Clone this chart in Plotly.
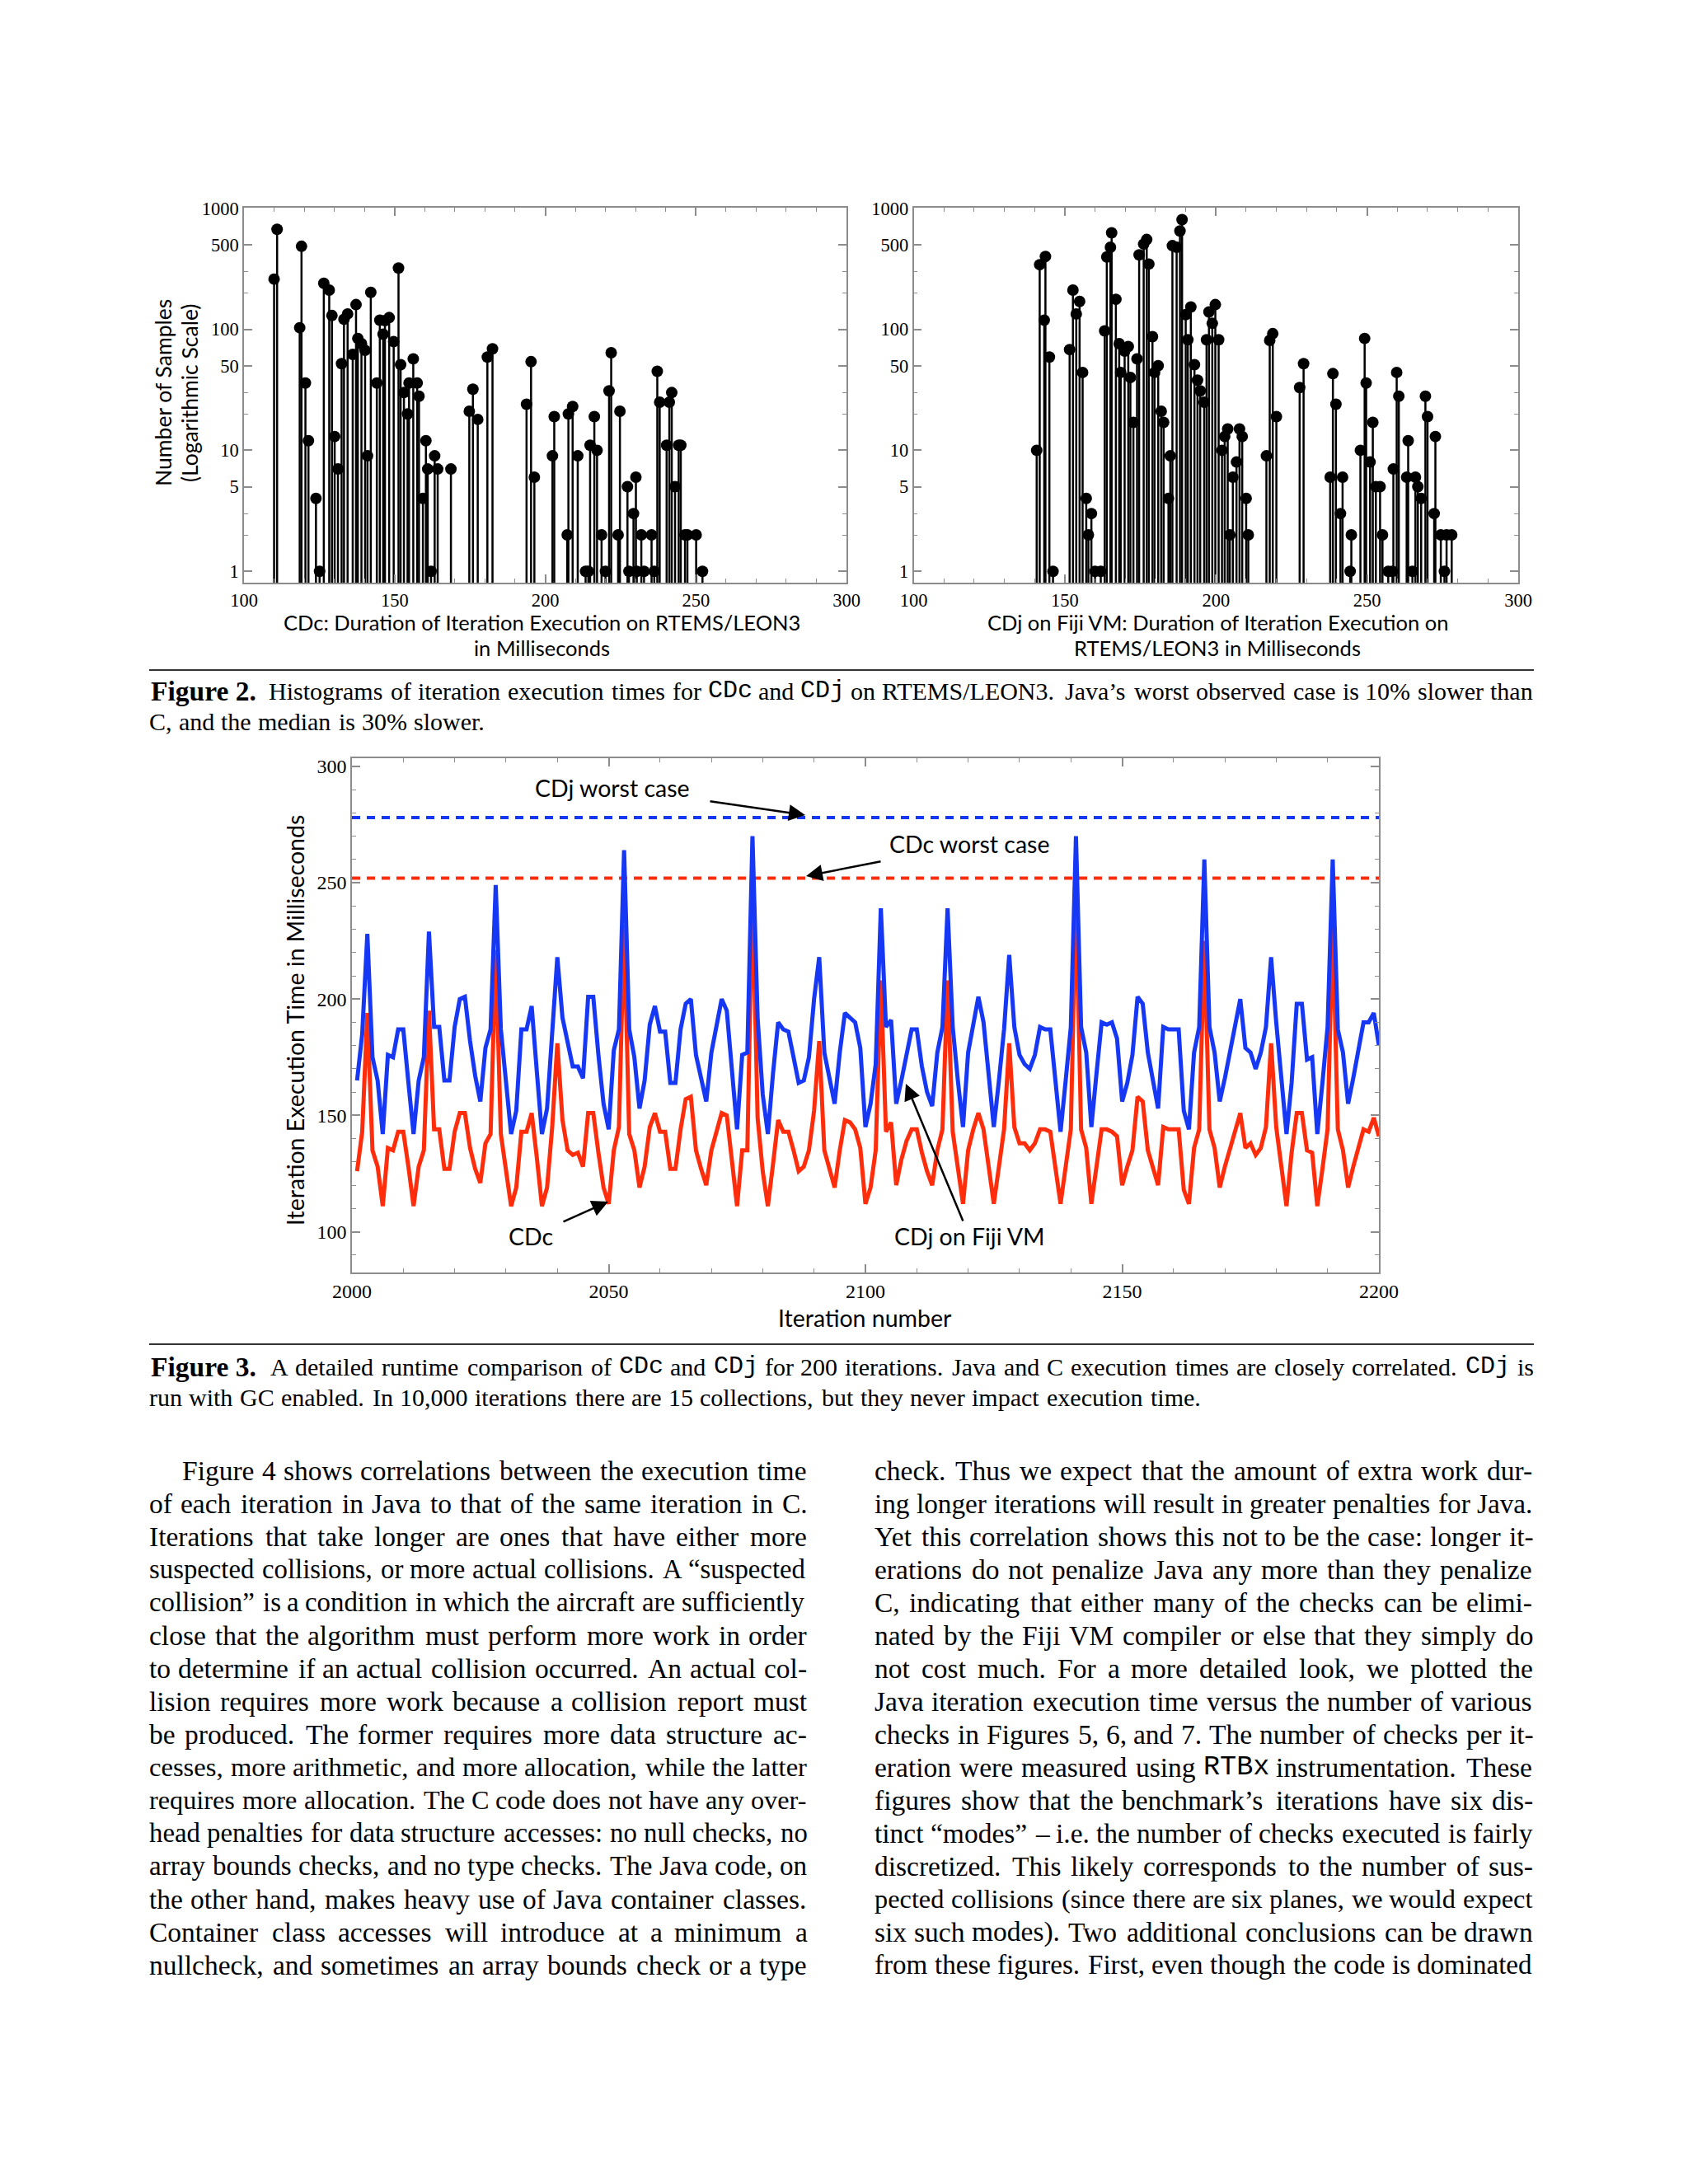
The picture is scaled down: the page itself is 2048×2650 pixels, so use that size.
import plotly.graph_objects as go

W, H = 2048, 2650

# ---------------- data ----------------
cdc_ms = [110, 111, 118.5, 119.1, 120.4, 121.4, 123.9, 125.1, 126.5, 128.3, 129.2, 130.1, 131.2, 132.4,
          133.2, 134.4, 136.1, 137.2, 137.8, 139.0, 140.2, 141.0, 142.1, 144.1, 145.1, 146.2, 146.8, 148.2,
          149.7, 151.3, 152.0, 153.1, 154.3, 154.8, 156.2, 157.5, 158.1, 159.4, 160.4, 161.0, 162.1, 163.3,
          164.3, 168.7, 174.8, 176.0, 177.6, 180.8, 182.5, 193.8, 195.3, 196.4, 202.4, 203.0, 207.3, 207.7,
          209.1, 210.8, 213.4, 214.3, 214.9, 216.3, 217.2, 218.7, 220.0, 221.2, 221.9, 224.2, 224.8, 227.3,
          227.8, 229.3, 230.1, 230.4, 231.9, 232.8, 235.3, 236.2, 237.2, 238.0, 240.3, 241.2, 242.0, 243.1,
          244.3, 245.0, 246.4, 247.2, 250.1, 252.2]
cdc_count = [260, 670, 103, 485, 36, 12, 4, 1, 240, 211, 130, 13, 7, 52,
             121, 134, 62, 160, 84, 76, 67, 9, 202, 36, 119, 91, 118, 125,
             79, 321, 51, 30, 20, 36, 57, 36, 28, 4, 12, 7, 1, 9,
             7, 7, 21, 32, 18, 59, 69, 24, 54, 6, 9, 19, 2, 20,
             23, 9, 1, 1, 11, 19, 10, 2, 1, 31, 64, 2, 21, 5,
             1, 3, 6, 1, 2, 1, 2, 1, 45, 25, 11, 25, 30, 5,
             11, 11, 2, 2, 2, 1]

cdj_ms = [140.7, 141.7, 143.2, 143.6, 144.9, 146.1, 151.6, 152.7, 153.8, 154.9, 155.9, 157.1, 157.8, 158.8,
          160.0, 161.9, 163.2, 163.9, 165.1, 165.5, 166.9, 168.0, 168.5, 169.8, 171.0, 171.7, 172.7, 173.9,
          174.6, 176.1, 177.1, 177.8, 179.0, 179.7, 180.9, 181.9, 182.7, 184.3, 184.9, 185.6, 187.0, 188.1,
          188.8, 190.0, 190.7, 191.7, 192.9, 193.9, 194.8, 196.1, 196.9, 197.7, 198.8, 199.8, 200.9, 202.0,
          202.9, 203.9, 204.6, 205.6, 206.8, 207.8, 208.7, 210.0, 210.7, 216.7, 217.8, 218.8, 220.0, 227.7,
          229.0, 237.8, 238.7, 239.7, 241.2, 241.9, 244.4, 244.8, 247.8, 249.2, 249.7, 251.0, 251.9, 252.9,
          254.3, 255.1, 257.0, 258.4, 258.7, 259.8, 260.5, 263.1, 263.6, 265.0, 266.0, 266.8, 267.9, 269.3,
          270.0, 272.2, 272.6, 274.4, 275.6, 276.3, 278.0]
cdj_count = [10, 342, 119, 400, 59, 1, 68, 211, 134, 170, 44, 4, 2, 3,
             1, 1, 97, 396, 477, 627, 177, 76, 44, 66, 72, 40, 17, 57,
             412, 506, 552, 346, 87, 44, 50, 21, 17, 4, 9, 491, 477, 650,
             806, 132, 82, 153, 51, 38, 31, 25, 82, 139, 112, 160, 82, 10,
             13, 15, 2, 6, 8, 15, 13, 4, 2, 9, 81, 92, 19, 33,
             52, 6, 43, 24, 3, 6, 1, 2, 10, 84, 36, 8, 17, 5,
             5, 2, 1, 1, 7, 44, 28, 6, 12, 1, 6, 5, 4, 28,
             19, 3, 13, 2, 1, 2, 2]

iterations = list(range(2001, 2201))
cdj_time = [165, 185, 228, 175, 165, 142, 176, 175, 187, 187, 164, 142, 165, 175, 229, 188, 188, 165, 165, 188,
            200, 201, 182, 167, 156, 179, 187, 249, 187, 165, 142, 152, 187, 187, 197, 169, 142, 153, 188, 218,
            192, 181, 171, 171, 166, 201, 201, 176, 155, 144, 178, 187, 264, 187, 175, 153, 165, 189, 197, 186,
            186, 164, 164, 187, 198, 200, 176, 166, 156, 177, 188, 200, 195, 169, 144, 176, 177, 270, 192, 159,
            142, 168, 190, 187, 186, 175, 164, 165, 175, 200, 218, 177, 165, 155, 177, 194, 192, 190, 179, 145,
            155, 172, 239, 188, 191, 155, 165, 176, 187, 187, 171, 160, 154, 177, 188, 239, 188, 165, 145, 177,
            189, 201, 190, 165, 145, 165, 187, 219, 188, 176, 172, 170, 176, 188, 187, 187, 167, 143, 165, 188,
            270, 188, 177, 145, 168, 190, 189, 190, 183, 156, 164, 176, 201, 198, 177, 165, 153, 188, 187, 187,
            187, 152, 144, 177, 188, 260, 188, 177, 156, 166, 177, 188, 200, 179, 177, 170, 177, 188, 218, 190,
            165, 142, 164, 198, 198, 174, 175, 142, 164, 188, 260, 187, 177, 155, 166, 177, 190, 190, 194, 180]
cdc_time = [126, 143, 194, 135, 128, 111, 136, 135, 143, 143, 128, 111, 128, 135, 195, 144, 144, 127, 127, 143,
            151, 151, 136, 127, 121, 138, 142, 221, 142, 127, 111, 119, 143, 143, 151, 132, 111, 119, 145, 181,
            148, 135, 133, 134, 128, 151, 151, 134, 119, 112, 135, 145, 232, 142, 135, 119, 128, 145, 151, 143,
            143, 127, 127, 144, 157, 158, 135, 127, 120, 135, 143, 151, 150, 129, 111, 135, 135, 248, 149, 126,
            111, 129, 148, 143, 143, 135, 126, 128, 135, 152, 182, 135, 127, 119, 135, 148, 147, 144, 136, 112,
            119, 135, 208, 143, 147, 120, 131, 139, 144, 144, 134, 126, 120, 135, 144, 208, 143, 128, 112, 135,
            144, 151, 144, 128, 112, 128, 144, 181, 145, 138, 138, 135, 138, 144, 144, 143, 127, 112, 128, 144,
            246, 144, 136, 112, 128, 144, 144, 143, 141, 120, 128, 135, 158, 156, 135, 127, 120, 145, 144, 144,
            144, 118, 112, 136, 144, 225, 144, 136, 119, 128, 136, 144, 151, 136, 138, 133, 136, 145, 181, 145,
            128, 111, 134, 151, 151, 135, 134, 111, 127, 144, 232, 144, 135, 119, 128, 136, 144, 143, 149, 141]
cdj_worst = 278
cdc_worst = 252

hist_xticks = [100, 150, 200, 250, 300]
hist_yticks = [1, 5, 10, 50, 100, 500, 1000]
hist_yminor = [2, 3, 20, 30, 200, 300]
line_xticks = [2000, 2050, 2100, 2150, 2200]
line_yticks = [100, 150, 200, 250, 300]

SERIF = "Liberation Serif"
SANS = "Lato"
MONO = "Liberation Mono"
BLUE = "#1638f5"
RED = "#ff2d0c"
FRAME = "#8c8c8c"


def px(x):
    return x / W


def py(y):
    return 1 - y / H


def stems(xs, ys):
    X, Y = [], []
    for x, y in zip(xs, ys):
        X += [x, x, None]
        Y += [0.1, y, None]
    return X, Y


fig = go.Figure()

for xs, ys, xa, ya in [(cdc_ms, cdc_count, "x", "y"), (cdj_ms, cdj_count, "x2", "y2")]:
    SX, SY = stems(xs, ys)
    fig.add_trace(go.Scatter(x=SX, y=SY, mode="lines", line=dict(color="black", width=2.5),
                             xaxis=xa, yaxis=ya, hoverinfo="skip"))
    fig.add_trace(go.Scatter(x=xs, y=ys, mode="markers", marker=dict(color="black", size=14),
                             xaxis=xa, yaxis=ya))

fig.add_trace(go.Scatter(x=[2000, 2200], y=[cdj_worst, cdj_worst], mode="lines",
                         line=dict(color=BLUE, width=4, dash="10px,8px"), xaxis="x3", yaxis="y3"))
fig.add_trace(go.Scatter(x=[2000, 2200], y=[cdc_worst, cdc_worst], mode="lines",
                         line=dict(color=RED, width=4, dash="10px,8px"), xaxis="x3", yaxis="y3"))
fig.add_trace(go.Scatter(x=iterations, y=cdc_time, mode="lines", line=dict(color=RED, width=5),
                         xaxis="x3", yaxis="y3"))
fig.add_trace(go.Scatter(x=iterations, y=cdj_time, mode="lines", line=dict(color=BLUE, width=5),
                         xaxis="x3", yaxis="y3"))


def axis(**kw):
    d = dict(showline=True, linecolor=FRAME, linewidth=1.5, mirror="ticks", ticks="inside",
             tickcolor=FRAME, ticklen=10, tickwidth=1.5, showgrid=False, zeroline=False,
             automargin=False,
             tickfont=dict(family=SERIF, size=22.5, color="black"))
    d.update(kw)
    return d


hist_x_minor = dict(tickvals=[v for v in range(110, 300, 10) if v % 50], ticks="inside", ticklen=5,
                    tickcolor=FRAME, tickwidth=1.2)
hist_y_common = dict(type="log", range=[-0.094, 3.005], tickvals=hist_yticks,
                     ticktext=[str(v) for v in hist_yticks],
                     minor=dict(tickvals=hist_yminor, ticks="inside", ticklen=5, tickcolor=FRAME, tickwidth=1.2))

yd_hist = [py(707), py(252)]
fig.update_layout(
    template="none",
    width=W, height=H, autosize=False, margin=dict(l=0, r=0, t=0, b=0, pad=0, autoexpand=False),
    paper_bgcolor="white", plot_bgcolor="white", showlegend=False,
    xaxis=axis(domain=[px(296), px(1027)], range=[100, 300], tickvals=hist_xticks, anchor="y",
               minor=hist_x_minor),
    yaxis=axis(domain=yd_hist, anchor="x", **hist_y_common),
    xaxis2=axis(domain=[px(1108.5), px(1842)], range=[100, 300], tickvals=hist_xticks, anchor="y2",
                minor=hist_x_minor),
    yaxis2=axis(domain=yd_hist, anchor="x2", **hist_y_common),
    xaxis3=axis(domain=[px(427), px(1673)], range=[2000, 2200], tickvals=line_xticks, anchor="y3",
                tickfont=dict(family=SERIF, size=24, color="black"),
                minor=dict(tickvals=[v for v in range(2010, 2200, 10) if v % 50], ticks="inside",
                           ticklen=5, tickcolor=FRAME, tickwidth=1.2)),
    yaxis3=axis(domain=[py(1544), py(920)], range=[82.5, 303.5], tickvals=line_yticks, anchor="x3",
                tickfont=dict(family=SERIF, size=24, color="black"),
                minor=dict(tickvals=[v for v in range(90, 301, 10) if v % 50], ticks="inside",
                           ticklen=5, tickcolor=FRAME, tickwidth=1.2)),
)

ann = []


def label(text, x, y, size, family=SANS, angle=0, xanchor="center"):
    ann.append(dict(text=text, x=px(x), y=py(y), xref="paper", yref="paper", showarrow=False,
                    xanchor=xanchor, yanchor="middle", textangle=angle,
                    font=dict(family=family, size=size, color="black")))


# histogram titles
label("CDc: Duration of Iteration Execution on RTEMS/LEON3", 657, 755, 25.5)
label("in Milliseconds", 657, 786, 25.5)
label("CDj on Fiji VM: Duration of Iteration Execution on", 1477, 755, 25.5)
label("RTEMS/LEON3 in Milliseconds", 1477, 786, 25.5)
label("Number of Samples", 198, 477, 26.5, angle=-90)
label("(Logarithmic Scale)", 230, 477, 26.5, angle=-90)

# line chart titles and labels
label("Iteration Execution Time in Milliseconds", 358, 1238, 28.5, angle=-90)
label("Iteration number", 1049, 1599, 28.5)
label("CDj worst case", 743, 956, 28.5)
label("CDc worst case", 1176, 1024, 28.5)
label("CDc", 644, 1500, 28.5)
label("CDj on Fiji VM", 1176, 1500, 28.5)


def arrow(tail, head):
    ann.append(dict(text="", x=px(head[0]), y=py(head[1]), xref="paper", yref="paper",
                    showarrow=True, ax=tail[0] - head[0], ay=tail[1] - head[1],
                    arrowhead=2, arrowsize=1.6, arrowwidth=2.5, arrowcolor="black"))


arrow((860, 972), (977, 989))
arrow((1070, 1045), (978, 1063))
arrow((682, 1483), (738, 1458))
arrow((1169, 1483), (1099, 1315))

# ---------------- text blocks ----------------
TW = {' ': 250, 'a': 444, 'b': 500, 'c': 444, 'd': 500, 'e': 444, 'f': 333, 'g': 500, 'h': 500, 'i': 278,
      'j': 278, 'k': 500, 'l': 278, 'm': 778, 'n': 500, 'o': 500, 'p': 500, 'q': 500, 'r': 333, 's': 389,
      't': 278, 'u': 500, 'v': 500, 'w': 722, 'x': 500, 'y': 500, 'z': 444,
      'A': 722, 'B': 667, 'C': 667, 'D': 722, 'E': 611, 'F': 556, 'G': 722, 'H': 722, 'I': 333, 'J': 389,
      'K': 722, 'L': 611, 'M': 889, 'N': 722, 'O': 722, 'P': 556, 'Q': 722, 'R': 667, 'S': 556, 'T': 611,
      'U': 722, 'V': 722, 'W': 944, 'X': 722, 'Y': 722, 'Z': 611,
      '.': 250, ',': 250, ':': 278, ';': 278, '-': 333, '(': 333, ')': 333, '“': 444, '”': 444,
      '’': 333, '–': 500, '/': 278, '%': 833}
MONO_WORDS = {"CDc", "CDj", "RTBx"}
REAL = 1.02  # rendered glyphs run slightly wider than the nominal metrics


def width_of(word, size):
    if word in MONO_WORDS:
        return 0.6 * size * len(word)
    return sum(TW.get(ch, 500) for ch in word) / 1000.0 * size * REAL


def text_line(line, x0, x1, yc, size, justify=True):
    words = line.split(" ")
    ws = [width_of(w, size) for w in words]
    n = len(words)
    if justify and n > 1:
        gap = (x1 - x0 - sum(ws)) / (n - 1)
        min_gap = 0.22 * size
        if gap < min_gap:
            # shrink this line's type a touch so that the spaces stay visible
            size = (x1 - x0) / (sum(ws) / size + (n - 1) * 0.22)
            ws = [width_of(w, size) for w in words]
            gap = (x1 - x0 - sum(ws)) / (n - 1)
    else:
        gap = 0.25 * size
    x = x0
    for w, wd in zip(words, ws):
        fam = MONO if w in MONO_WORDS else SERIF
        ann.append(dict(text=w, x=px(x), y=py(yc), xref="paper", yref="paper", showarrow=False,
                        xanchor="left", yanchor="middle", borderpad=0, borderwidth=0,
                        font=dict(family=fam, size=size, color="black")))
        x += wd + gap


CAP = 30
label("<b>Figure 2.</b>", 181, 838, 33.5, family=SERIF, xanchor="left")
text_line("Histograms of iteration execution times for CDc and CDj on RTEMS/LEON3. Java’s worst observed case is 10% slower than",
          326, 1861, 838, CAP)
text_line("C, and the median is 30% slower.", 181, 1861, 875, CAP, justify=False)

label("<b>Figure 3.</b>", 181, 1658, 33.5, family=SERIF, xanchor="left")
text_line("A detailed runtime comparison of CDc and CDj for 200 iterations. Java and C execution times are closely correlated. CDj is",
          328, 1861, 1658, CAP)
text_line("run with GC enabled. In 10,000 iterations there are 15 collections, but they never impact execution time.",
          181, 1861, 1695, CAP, justify=False)

left_col = [
    "Figure 4 shows correlations between the execution time",
    "of each iteration in Java to that of the same iteration in C.",
    "Iterations that take longer are ones that have either more",
    "suspected collisions, or more actual collisions. A “suspected",
    "collision” is a condition in which the aircraft are sufficiently",
    "close that the algorithm must perform more work in order",
    "to determine if an actual collision occurred. An actual col-",
    "lision requires more work because a collision report must",
    "be produced. The former requires more data structure ac-",
    "cesses, more arithmetic, and more allocation, while the latter",
    "requires more allocation. The C code does not have any over-",
    "head penalties for data structure accesses: no null checks, no",
    "array bounds checks, and no type checks. The Java code, on",
    "the other hand, makes heavy use of Java container classes.",
    "Container class accesses will introduce at a minimum a",
    "nullcheck, and sometimes an array bounds check or a type",
]
right_col = [
    "check. Thus we expect that the amount of extra work dur-",
    "ing longer iterations will result in greater penalties for Java.",
    "Yet this correlation shows this not to be the case: longer it-",
    "erations do not penalize Java any more than they penalize",
    "C, indicating that either many of the checks can be elimi-",
    "nated by the Fiji VM compiler or else that they simply do",
    "not cost much. For a more detailed look, we plotted the",
    "Java iteration execution time versus the number of various",
    "checks in Figures 5, 6, and 7. The number of checks per it-",
    "eration were measured using RTBx instrumentation. These",
    "figures show that the benchmark’s iterations have six dis-",
    "tinct “modes” – i.e. the number of checks executed is fairly",
    "discretized. This likely corresponds to the number of sus-",
    "pected collisions (since there are six planes, we would expect",
    "six such modes). Two additional conclusions can be drawn",
    "from these figures. First, even though the code is dominated",
]
BODY = 33.5
for k, line in enumerate(left_col):
    yc = 1784 + 40 * k
    text_line(line, 221 if k == 0 else 181, 980, yc, BODY)
for k, line in enumerate(right_col):
    yc = 1784 + 40 * k
    text_line(line, 1061, 1861, yc, BODY)

fig.update_layout(
    annotations=ann,
    shapes=[
        dict(type="line", xref="paper", yref="paper", x0=px(181), x1=px(1861), y0=py(813), y1=py(813),
             line=dict(color="#333333", width=2)),
        dict(type="line", xref="paper", yref="paper", x0=px(181), x1=px(1861), y0=py(1631), y1=py(1631),
             line=dict(color="#333333", width=2)),
    ],
)

fig.write_html("out.html", config={"displayModeBar": False},
               post_script="document.body.style.margin='0';")
